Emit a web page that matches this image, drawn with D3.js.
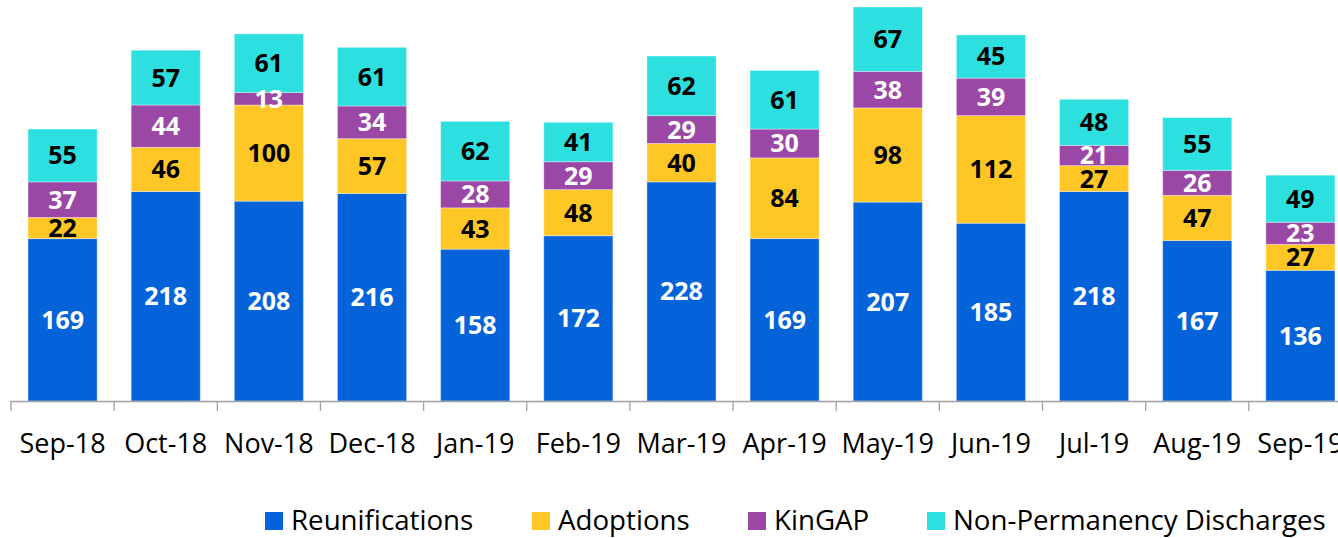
<!DOCTYPE html>
<html><head><meta charset="utf-8">
<script src="https://cdn.jsdelivr.net/npm/d3@7"></script>
<style>body{margin:0;background:#fff}svg{display:block}</style>
</head><body>
<svg id="c" width="1338" height="538"></svg>
<script>
const categories = ["Sep-18","Oct-18","Nov-18","Dec-18","Jan-19","Feb-19","Mar-19","Apr-19","May-19","Jun-19","Jul-19","Aug-19","Sep-19"];
const reunifications = [169,218,208,216,158,172,228,169,207,185,218,167,136];
const adoptions = [22,46,100,57,43,48,40,84,98,112,27,47,27];
const kingap = [37,44,13,34,28,29,29,30,38,39,21,26,23];
const nonPermanency = [55,57,61,61,62,41,62,61,67,45,48,55,49];
const seriesNames = ["Reunifications","Adoptions","KinGAP","Non-Permanency Discharges"];
const seriesColors = ["#0563DA","#FFC726","#9B47A5","#2DE0DF"];
const labelColors = ["#ffffff","#000000","#ffffff","#000000"];

const font = "'Open Sans', sans-serif";
const svg = d3.select("#c");
const step = 103.15;
const x = d3.scaleBand().domain(categories).range([11, 11 + step*categories.length]).paddingInner(0.33).paddingOuter(0.165);
const y = d3.scaleLinear().domain([0, 410]).range([401, 7]);

const rows = categories.map((c,i)=>({cat:c, s0:reunifications[i], s1:adoptions[i], s2:kingap[i], s3:nonPermanency[i]}));
const stack = d3.stack().keys(["s0","s1","s2","s3"])(rows);

stack.forEach((layer, k) => {
  const g = svg.append("g");
  g.selectAll("rect").data(layer).join("rect")
    .attr("x", d => x(d.data.cat))
    .attr("width", x.bandwidth())
    .attr("y", d => y(d[1]))
    .attr("height", d => y(d[0]) - y(d[1]))
    .attr("fill", seriesColors[k])
    .attr("stroke", "rgba(255,255,255,0.35)")
    .attr("stroke-width", 1);
});
stack.forEach((layer, k) => {
  svg.append("g").selectAll("text").data(layer).join("text")
    .attr("x", d => x(d.data.cat) + x.bandwidth()/2)
    .attr("y", d => (y(d[0]) + y(d[1]))/2)
    .attr("dy", "0.36em")
    .attr("text-anchor", "middle")
    .attr("font-family", font)
    .attr("font-weight", "bold")
    .attr("font-size", 25)
    .attr("fill", labelColors[k])
    .text(d => d[1]-d[0]);
});

// axis
const axisColor = "#a0a0a0";
const ax = svg.append("g");
ax.append("line").attr("x1", 11).attr("x2", 1338).attr("y1", 401.5).attr("y2", 401.5)
  .attr("stroke", axisColor).attr("stroke-width", 1.3);
const bounds = categories.map(c => x(c) - x.step()*x.paddingInner()/2);
ax.selectAll("line.t").data(bounds).join("line").attr("class","t")
  .attr("x1", d=>d).attr("x2", d=>d).attr("y1", 401).attr("y2", 411)
  .attr("stroke", axisColor).attr("stroke-width", 1.3);
ax.selectAll("text").data(categories).join("text")
  .attr("x", d => x(d) + x.bandwidth()/2)
  .attr("y", 453)
  .attr("text-anchor", "middle")
  .attr("font-family", font)
  .attr("font-size", 27)
  .attr("fill", "#000")
  .text(d => d);

// legend
const legendX = [265, 532, 748, 927];
const lg = svg.append("g");
seriesNames.forEach((n, i) => {
  lg.append("rect").attr("x", legendX[i]).attr("y", 512).attr("width", 18).attr("height", 18).attr("fill", seriesColors[i]);
  lg.append("text").attr("x", legendX[i] + 26).attr("y", 530)
    .attr("font-family", font).attr("font-size", 27.7).attr("fill", "#000").text(n);
});
</script>
</body></html>
